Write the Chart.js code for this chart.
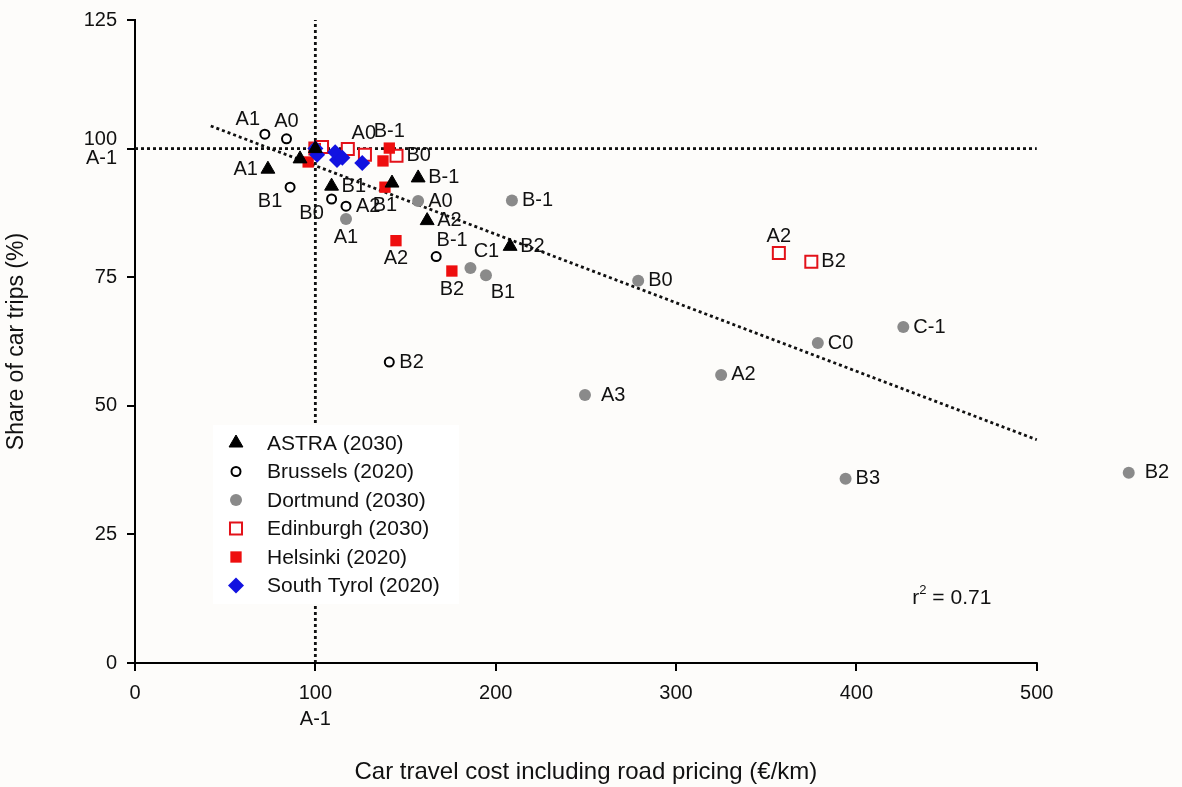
<!DOCTYPE html>
<html>
<head>
<meta charset="utf-8">
<title>Car trips vs travel cost</title>
<script src="https://cdn.jsdelivr.net/npm/chart.js@4.4.1/dist/chart.umd.min.js"></script>
<style>
  html, body { margin: 0; padding: 0; background: #fdfcfa; }
  canvas { display: block; }
</style>
</head>
<body>
<canvas id="costChart" width="1182" height="787"></canvas>
<script>
// ---- data ----
const xTicks = [0, 100, 200, 300, 400, 500];
const xTickLabels = ["0", ["100", "A-1"], "200", "300", "400", "500"];
const yTicks = [0, 25, 50, 75, 100, 125];
const yTickLabels = ["0", "25", "50", "75", ["100", "A-1"], "125"];

const astraX = [100, 73.7, 91.5, 109, 142.5, 157, 162, 208];
const astraY = [100, 96.0, 98.0, 92.7, 93.3, 94.3, 86.0, 81.0];
const astraLbl = ["", "A1", "", "B1", "", "B-1", "A2", "B2"];
const astraPos = ["", "l", "", "r", "", "r", "r", "r"];

const brusselsX = [100, 72, 84, 86, 109, 117, 167, 141];
const brusselsY = [100, 102.8, 101.9, 92.5, 90.2, 88.8, 79.0, 58.5];
const brusselsLbl = ["", "A1", "A0", "B1", "B0", "A2", "B-1", "B2"];
const brusselsPos = ["", "al", "a", "bl", "bl", "r", "ar", "r"];

const dortmundX = [100, 117, 157, 209, 186, 194.6, 279, 249.5, 325, 378.6, 426, 394, 551];
const dortmundY = [100, 86.3, 89.8, 89.9, 76.8, 75.4, 74.3, 52.1, 56.0, 62.2, 65.3, 35.8, 37.0];
const dortmundLbl = ["", "A1", "A0", "B-1", "C1", "B1", "B0", "A3", "A2", "C0", "C-1", "B3", "B2"];
const dortmundPos = ["", "b", "r", "r", "ar", "br", "r", "R", "r", "r", "r", "r", "R"];

const edinburghX = [100, 103.7, 118, 127.5, 145, 357, 375];
const edinburghY = [100, 100.3, 99.9, 98.8, 98.6, 79.7, 78.0];
const edinburghLbl = ["", "", "A0", "", "B0", "A2", "B2"];
const edinburghPos = ["", "", "ar", "", "r", "a", "r"];

const helsinkiX = [100, 96, 141, 137.5, 138.6, 144.7, 175.7];
const helsinkiY = [100, 97.4, 100.1, 97.6, 92.5, 82.1, 76.2];
const helsinkiLbl = ["", "", "B-1", "", "B1", "A2", "B2"];
const helsinkiPos = ["", "", "a", "", "b", "b", "b"];

const tyrolX = [100, 101, 111, 112, 115, 126];
const tyrolY = [100, 98.8, 99.3, 97.8, 98.2, 97.2];

// regression line end points and the A-1 reference lines
const trendX = [42, 500];
const trendY = [104.4, 43.4];
const refHX = [0, 500], refHY = [100, 100];
const refVX = [100, 100], refVY = [0, 125];

const rSquared = "0.71";
const xTitle = "Car travel cost including road pricing (€/km)";
const yTitle = "Share of car trips (%)";

// ---- helpers ----
const FONT = '"Liberation Sans", Arial, Helvetica, sans-serif';
Chart.defaults.font.family = FONT;
Chart.defaults.color = "#111";

const pts = (xs, ys) => xs.map((x, i) => ({ x, y: ys[i] }));

const OFFSETS = {
  r:  { dx: 10,  dy: 0,   align: "left" },
  R:  { dx: 16,  dy: 0,   align: "left" },
  l:  { dx: -10, dy: 0,   align: "right" },
  a:  { dx: 0,   dy: -17, align: "center" },
  b:  { dx: 0,   dy: 18,  align: "center" },
  al: { dx: -17, dy: -15, align: "center" },
  ar: { dx: 16,  dy: -16, align: "center" },
  bl: { dx: -20, dy: 14,  align: "center" },
  br: { dx: 17,  dy: 17,  align: "center" }
};

function series(label, xs, ys, lbl, pos, style, order) {
  return Object.assign({
    label, data: pts(xs, ys), labelText: lbl, labelPos: pos,
    order, inLegend: true
  }, style);
}

function refLine(xs, ys) {
  return {
    label: "", data: pts(xs, ys), showLine: true, pointRadius: 0,
    borderColor: "#111", borderWidth: 2.8, borderDash: [3, 3],
    order: 10, inLegend: false
  };
}

const datasets = [
  series("ASTRA (2030)", astraX, astraY, astraLbl, astraPos,
    { pointStyle: "triangle", pointRadius: 8, backgroundColor: "#000", borderColor: "#000", borderWidth: 1 }, 0),
  series("Brussels (2020)", brusselsX, brusselsY, brusselsLbl, brusselsPos,
    { pointStyle: "circle", pointRadius: 4.5, backgroundColor: "#fff", borderColor: "#000", borderWidth: 2 }, 2),
  series("Dortmund (2030)", dortmundX, dortmundY, dortmundLbl, dortmundPos,
    { pointStyle: "circle", pointRadius: 6, backgroundColor: "#8a8a8a", borderColor: "#8a8a8a", borderWidth: 0 }, 3),
  series("Edinburgh (2030)", edinburghX, edinburghY, edinburghLbl, edinburghPos,
    { pointStyle: "rect", pointRadius: 8.5, backgroundColor: "#fff", borderColor: "#e3121a", borderWidth: 2 }, 5),
  series("Helsinki (2020)", helsinkiX, helsinkiY, helsinkiLbl, helsinkiPos,
    { pointStyle: "rect", pointRadius: 8, backgroundColor: "#ee0e0e", borderColor: "#ee0e0e", borderWidth: 0 }, 4),
  series("South Tyrol (2020)", tyrolX, tyrolY, null, null,
    { pointStyle: "rectRot", pointRadius: 8, backgroundColor: "#1212e0", borderColor: "#1212e0", borderWidth: 0 }, 1),
  refLine(trendX, trendY),
  refLine(refHX, refHY),
  refLine(refVX, refVY)
];

// x axis line only runs to the last tick; its title is centred under that span
const xAxisExtras = {
  id: "xAxisExtras",
  afterDraw(chart) {
    const { ctx, scales: { x }, chartArea } = chart;
    const x0 = x.getPixelForValue(0), x1 = x.getPixelForValue(500);
    ctx.save();
    ctx.strokeStyle = "#000";
    ctx.lineWidth = 2;
    ctx.beginPath();
    ctx.moveTo(x0 - 1, chartArea.bottom);
    ctx.lineTo(x1 + 1, chartArea.bottom);
    ctx.stroke();
    ctx.fillStyle = "#111";
    ctx.font = "24px " + FONT;
    ctx.textAlign = "center";
    ctx.textBaseline = "middle";
    ctx.fillText(xTitle, (x0 + x1) / 2, 772);
    ctx.restore();
  }
};

const pointLabels = {
  id: "pointLabels",
  afterDatasetsDraw(chart) {
    const ctx = chart.ctx;
    ctx.save();
    ctx.font = "20px " + FONT;
    ctx.fillStyle = "#111";
    ctx.textBaseline = "middle";
    chart.data.datasets.forEach((ds, i) => {
      if (!ds.labelText) return;
      chart.getDatasetMeta(i).data.forEach((pt, j) => {
        const txt = ds.labelText[j];
        if (!txt) return;
        const o = OFFSETS[ds.labelPos[j]];
        ctx.textAlign = o.align;
        ctx.fillText(txt, pt.x + o.dx, pt.y + o.dy);
      });
    });
    ctx.restore();
  }
};

const legendBox = {
  id: "legendBox",
  afterDatasetsDraw(chart) {
    const ctx = chart.ctx;
    const x0 = 213, y0 = 425, w = 246, h = 179;
    ctx.save();
    ctx.fillStyle = "#fff";
    ctx.fillRect(x0, y0, w, h);
    ctx.font = "21px " + FONT;
    ctx.textAlign = "left";
    ctx.textBaseline = "middle";
    chart.data.datasets.filter(d => d.inLegend).forEach((ds, i) => {
      const cy = y0 + 18 + i * 28.5;
      ctx.fillStyle = ds.backgroundColor;
      ctx.strokeStyle = ds.borderColor;
      ctx.lineWidth = ds.borderWidth;
      Chart.helpers.drawPoint(ctx, {
        pointStyle: ds.pointStyle, radius: ds.pointRadius,
        rotation: 0, borderWidth: ds.borderWidth
      }, x0 + 23, cy);
      ctx.fillStyle = "#111";
      ctx.fillText(ds.label, x0 + 54, cy + 1);
    });
    ctx.restore();
  }
};

const fitNote = {
  id: "fitNote",
  afterDraw(chart) {
    const { ctx, scales: { x, y } } = chart;
    const px = x.getPixelForValue(431), py = y.getPixelForValue(12.6);
    ctx.save();
    ctx.fillStyle = "#111";
    ctx.textBaseline = "middle";
    ctx.textAlign = "left";
    ctx.font = "21px " + FONT;
    ctx.fillText("r", px, py);
    let cx = px + ctx.measureText("r").width;
    ctx.font = "13px " + FONT;
    ctx.fillText("2", cx, py - 8);
    cx += ctx.measureText("2").width;
    ctx.font = "21px " + FONT;
    ctx.fillText(" = " + rSquared, cx, py);
    ctx.restore();
  }
};

new Chart(document.getElementById("costChart"), {
  type: "scatter",
  data: { datasets },
  plugins: [xAxisExtras, pointLabels, legendBox, fitNote],
  options: {
    responsive: false,
    animation: false,
    layout: { padding: { left: 0, top: 20, right: 19, bottom: 0 } },
    plugins: { legend: { display: false }, tooltip: { enabled: false } },
    scales: {
      x: {
        type: "linear", min: 0, max: 570,
        afterBuildTicks: s => { s.ticks = xTicks.map(v => ({ value: v })); },
        afterFit: s => { s.height = 124; },
        ticks: {
          callback: (v, i) => xTickLabels[i],
          font: { size: 20, lineHeight: 1.3 }, color: "#111",
          padding: 9, maxRotation: 0, autoSkip: false
        },
        grid: { display: true, drawOnChartArea: false, drawTicks: true, tickLength: 8, color: "#000", lineWidth: 2 },
        border: { display: false },
        title: { display: false }
      },
      y: {
        type: "linear", min: 0, max: 125,
        afterBuildTicks: s => { s.ticks = yTicks.map(v => ({ value: v })); },
        afterFit: s => { s.width = 135; },
        ticks: {
          callback: (v, i) => yTickLabels[i],
          font: { size: 20, lineHeight: 0.95 }, color: "#111", padding: 10
        },
        grid: { display: true, drawOnChartArea: false, drawTicks: true, tickLength: 8, color: "#000", lineWidth: 2 },
        border: { display: true, color: "#000", width: 2 },
        title: {
          display: true, text: yTitle,
          font: { size: 23 }, color: "#111", padding: { top: 3, bottom: 0 }
        }
      }
    }
  }
});
</script>
</body>
</html>
